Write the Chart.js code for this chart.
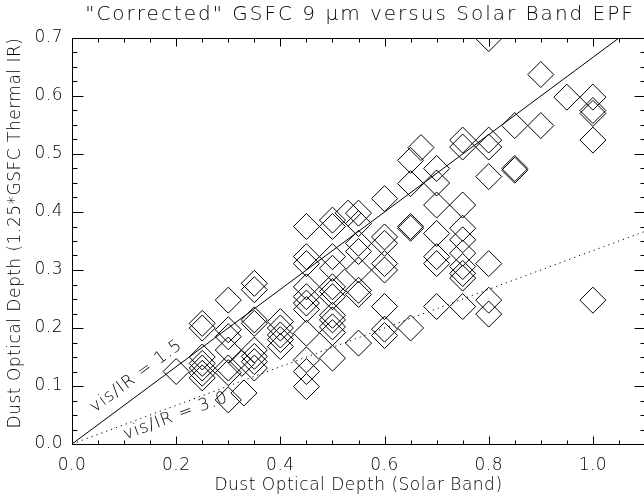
<!DOCTYPE html>
<html>
<head>
<meta charset="utf-8">
<script src="https://cdn.jsdelivr.net/npm/chart.js@4.4.1/dist/chart.umd.min.js"></script>
<style>
  html, body { margin: 0; padding: 0; background: #fff; overflow: hidden; }
  #wrap { width: 644px; height: 496px; overflow: hidden; }
</style>
</head>
<body>
<div id="wrap"><canvas id="epf" width="646" height="496"></canvas></div>
<script>
// solar band optical depth of each sample
const solarBand = [
  0.20,
  0.25, 0.25, 0.25, 0.25, 0.25, 0.25, 0.25,
  0.30, 0.30, 0.30, 0.30, 0.30, 0.30, 0.30,
  0.326, 0.33,
  0.35, 0.35, 0.35, 0.35, 0.35, 0.35, 0.35, 0.35,
  0.40, 0.40, 0.40, 0.40, 0.40,
  0.45, 0.45, 0.45, 0.45, 0.45, 0.45, 0.45, 0.45, 0.45, 0.45, 0.45,
  0.50, 0.50, 0.50, 0.50, 0.50, 0.50, 0.50, 0.50, 0.50, 0.50, 0.50, 0.50,
  0.53,
  0.55, 0.55, 0.55, 0.55, 0.55, 0.55, 0.55, 0.55,
  0.60, 0.60, 0.60, 0.60, 0.60, 0.60, 0.60, 0.60,
  0.65, 0.65, 0.65, 0.65, 0.65,
  0.67,
  0.70, 0.70, 0.70, 0.70, 0.70, 0.70, 0.70,
  0.75, 0.75, 0.75, 0.75, 0.75, 0.75, 0.75, 0.75, 0.75, 0.75,
  0.80, 0.80, 0.80, 0.80, 0.80, 0.80, 0.80,
  0.85, 0.85, 0.85,
  0.90, 0.90,
  0.95,
  1.00, 1.00, 1.00, 1.00, 1.00
];
// corrected GSFC 9 um optical depth (x1.25), same order as solarBand
const thermalIR = [
  0.125,
  0.208, 0.200, 0.150, 0.139, 0.131, 0.122, 0.114,
  0.248, 0.197, 0.185, 0.162, 0.131, 0.123, 0.076,
  0.139, 0.088,
  0.277, 0.266, 0.214, 0.208, 0.162, 0.151, 0.142, 0.131,
  0.211, 0.200, 0.188, 0.180, 0.168,
  0.375, 0.323, 0.311, 0.271, 0.254, 0.243, 0.232, 0.191, 0.145, 0.125, 0.099,
  0.386, 0.375, 0.323, 0.303, 0.271, 0.263, 0.254, 0.222, 0.214, 0.202, 0.192, 0.148,
  0.398,
  0.398, 0.380, 0.346, 0.332, 0.300, 0.265, 0.258, 0.174,
  0.423, 0.357, 0.346, 0.311, 0.300, 0.237, 0.198, 0.187,
  0.489, 0.449, 0.375, 0.372, 0.200,
  0.511,
  0.475, 0.450, 0.412, 0.363, 0.323, 0.311, 0.237,
  0.524, 0.512, 0.412, 0.372, 0.352, 0.329, 0.306, 0.294, 0.286, 0.237,
  0.699, 0.524, 0.512, 0.461, 0.311, 0.248, 0.224,
  0.549, 0.475, 0.472,
  0.637, 0.549,
  0.598,
  0.598, 0.575, 0.570, 0.524, 0.248
];

// constant vis/IR reference lines
const visIrRatios = [1.5, 3.0];
const visIrLabels = ['vis/IR = 1.5', 'vis/IR = 3.0'];

const xTicks = [0.0, 0.2, 0.4, 0.6, 0.8, 1.0];
const xTickLabels = ['0.0', '0.2', '0.4', '0.6', '0.8', '1.0'];
const yTicks = [0.0, 0.1, 0.2, 0.3, 0.4, 0.5, 0.6, 0.7];
const yTickLabels = ['0.0', '0.1', '0.2', '0.3', '0.4', '0.5', '0.6', '0.7'];

const X_MAX = 1.1;
const Y_MAX = 0.7;

// where each ratio label sits: along the line (data x) and off it (px, + is above)
const labelPlacement = [
  { at: 0.142, off: 16 },
  { at: 0.1925, off: -10 }
];

const FONT = 'DejaVu Sans';
const TEXT = '#000';
Chart.defaults.font.family = FONT;
Chart.defaults.font.weight = '200';
Chart.defaults.color = TEXT;

const points = solarBand.map((x, i) => ({ x: x, y: thermalIR[i] }));

const ratioLines = visIrRatios.map((r, i) => ({
  type: 'line',
  data: [0, X_MAX].map(x => ({ x: x, y: x / r })),
  borderColor: '#000',
  borderWidth: 1,
  borderDash: i === 0 ? [] : [1.2, 4],
  pointRadius: 0,
  fill: false,
  clip: 0
}));

// the wide, airy look of the plot lettering
const spacingPlugin = {
  id: 'spacing',
  beforeUpdate(chart) { chart.ctx.letterSpacing = '0.5px'; },
  beforeDraw(chart) { chart.ctx.letterSpacing = '0.5px'; }
};

function rotatedText(ctx, text, cx, cy, ang) {
  ctx.save();
  ctx.translate(cx, cy);
  ctx.rotate(ang);
  ctx.fillText(text, 0, 0);
  ctx.restore();
}

// box with inward major/minor ticks on all four sides, titles, line labels
const framePlugin = {
  id: 'frame',
  afterDraw(chart) {
    const ctx = chart.ctx;
    const a = chart.chartArea;
    const xs = chart.scales.x, ys = chart.scales.y;
    const L = Math.round(a.left) + 0.5, R = Math.round(a.right) + 0.5;
    const T = Math.round(a.top) + 0.5, B = Math.round(a.bottom) + 0.5;
    ctx.save();
    ctx.strokeStyle = '#000';
    ctx.lineWidth = 1;
    ctx.strokeRect(L, T, R - L, B - T);

    ctx.beginPath();
    for (let k = 0; k * 0.05 <= X_MAX + 1e-9; k++) {
      const v = k * 0.05;
      const len = k % 4 === 0 ? 8 : 4;
      const px = Math.round(xs.getPixelForValue(v)) + 0.5;
      ctx.moveTo(px, B); ctx.lineTo(px, B - len);
      ctx.moveTo(px, T); ctx.lineTo(px, T + len);
    }
    for (let k = 0; k * 0.025 <= Y_MAX + 1e-9; k++) {
      const v = k * 0.025;
      const len = k % 4 === 0 ? 11 : 5;
      const py = Math.round(ys.getPixelForValue(v)) + 0.5;
      ctx.moveTo(L, py); ctx.lineTo(L + len, py);
      ctx.moveTo(R, py); ctx.lineTo(R - len, py);
    }
    ctx.stroke();

    ctx.fillStyle = TEXT;
    ctx.textAlign = 'center';
    ctx.textBaseline = 'middle';

    ctx.letterSpacing = '2px';
    ctx.font = '200 20px "' + FONT + '"';
    ctx.fillText('"Corrected" GSFC 9 \u03bcm versus Solar Band EPF', 360, 15);

    ctx.letterSpacing = '0.5px';
    ctx.font = '200 17px "' + FONT + '"';
    rotatedText(ctx, 'Dust Optical Depth (1.25*GSFC Thermal IR)', 16, 233, -Math.PI / 2);

    ctx.letterSpacing = '1px';
    ctx.font = '200 17px "' + FONT + '"';
    const x0 = xs.getPixelForValue(0), y0 = ys.getPixelForValue(0);
    visIrRatios.forEach((r, i) => {
      const x1 = xs.getPixelForValue(1), y1 = ys.getPixelForValue(1 / r);
      const ang = Math.atan2(y1 - y0, x1 - x0);
      const p = labelPlacement[i];
      const px = xs.getPixelForValue(p.at), py = ys.getPixelForValue(p.at / r);
      rotatedText(ctx, visIrLabels[i], px + Math.sin(ang) * p.off, py - Math.cos(ang) * p.off, ang);
    });
    ctx.restore();
  }
};

new Chart(document.getElementById('epf'), {
  type: 'scatter',
  data: {
    datasets: [
      {
        data: points,
        pointStyle: 'rectRot',
        pointRadius: 13,
        pointBorderWidth: 1,
        pointBorderColor: '#000',
        pointBackgroundColor: 'rgba(0,0,0,0)',
        clip: 0
      },
      ...ratioLines
    ]
  },
  options: {
    responsive: false,
    animation: false,
    events: [],
    layout: { autoPadding: false, padding: { top: 38, right: 1, left: 0, bottom: 0 } },
    plugins: { legend: { display: false }, tooltip: { enabled: false } },
    scales: {
      x: {
        type: 'linear',
        min: 0,
        max: X_MAX,
        grid: { display: false, drawTicks: false },
        border: { display: false },
        afterBuildTicks: s => { s.ticks = xTicks.map(v => ({ value: v })); },
        afterFit: s => { s.height = 52; },
        ticks: {
          padding: 11,
          maxRotation: 0,
          font: { size: 17 },
          callback: (v, i) => xTickLabels[i]
        },
        title: {
          display: true,
          text: 'Dust Optical Depth (Solar Band)',
          font: { size: 17 },
          padding: { top: 0, bottom: 0 }
        }
      },
      y: {
        type: 'linear',
        min: 0,
        max: Y_MAX,
        grid: { display: false, drawTicks: false },
        border: { display: false },
        afterBuildTicks: s => { s.ticks = yTicks.map(v => ({ value: v })); },
        afterFit: s => { s.width = 72; },
        ticks: {
          padding: 9,
          font: { size: 17 },
          callback: (v, i) => yTickLabels[i]
        }
      }
    }
  },
  plugins: [spacingPlugin, framePlugin]
});
</script>
</body>
</html>
